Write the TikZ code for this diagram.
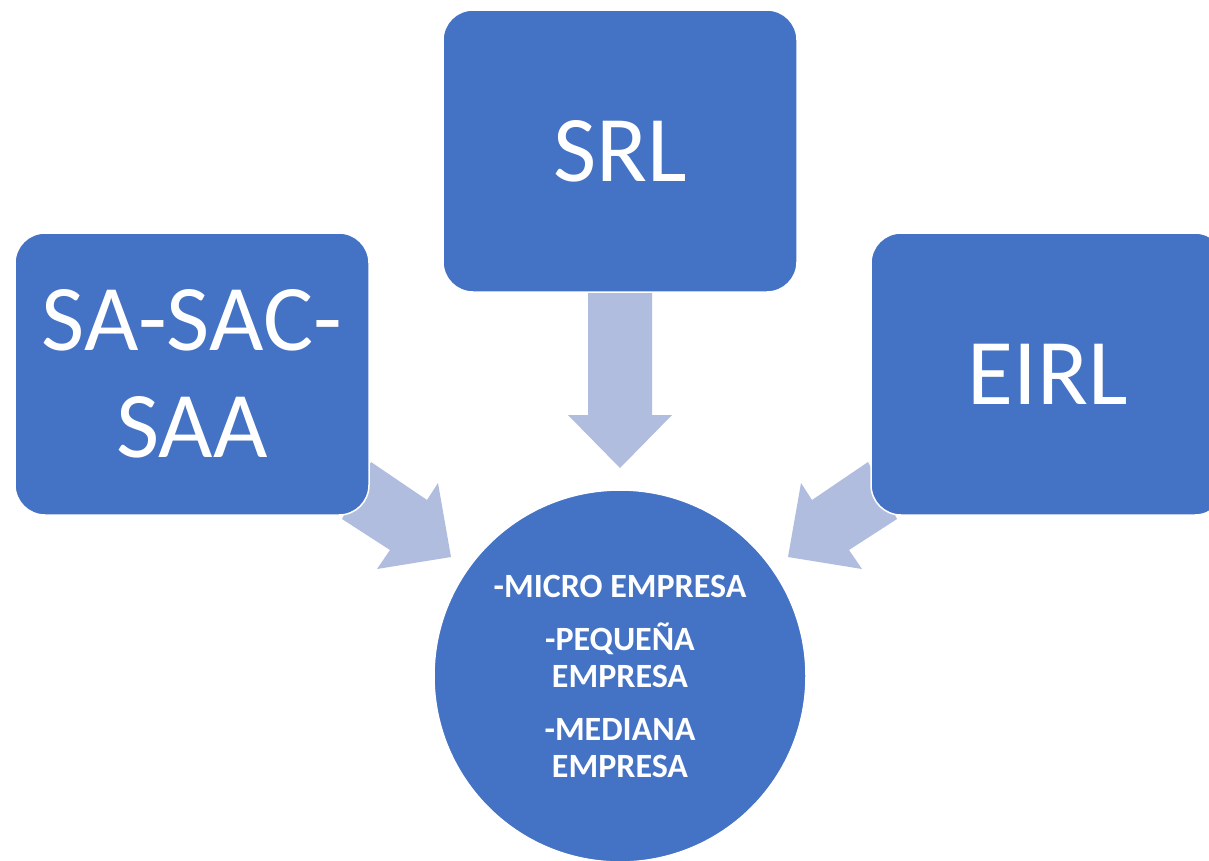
\documentclass[tikz,border=0pt]{standalone}
\usepackage{fontspec}
\setmainfont{Carlito}
\definecolor{boxblue}{HTML}{4472C4}
\definecolor{arrowblue}{HTML}{B0BDDF}
\begin{document}
\begin{tikzpicture}[x=1pt,y=-1pt,
  entbox/.style={rectangle, rounded corners=30pt, fill=boxblue, draw=white, line width=1.5pt,
    minimum width=354pt, minimum height=282pt, inner sep=0pt, text=white, align=center,
    font=\fontsize{94}{107}\selectfont},
  sizecircle/.style={circle, fill=boxblue, draw=white, line width=1.5pt, minimum size=372pt,
    inner sep=0pt, text=white, align=center, font=\bfseries\fontsize{34}{37}\selectfont},
  blockarrow/.style={fill=arrowblue, draw=none}]
\clip (0,0) rectangle (1209,860);
\fill[white] (0,0) rectangle (1209,860);
% arrow outlines
\coordinate (la1) at (371,462); \coordinate (la2) at (427,500); \coordinate (la3) at (438,483);
\coordinate (la4) at (451,557); \coordinate (la5) at (377,569); \coordinate (la6) at (390,550);
\coordinate (la7) at (342,519);
\coordinate (ra1) at (868,462); \coordinate (ra2) at (812,500); \coordinate (ra3) at (801,483);
\coordinate (ra4) at (788,557); \coordinate (ra5) at (862,569); \coordinate (ra6) at (849,550);
\coordinate (ra7) at (897,519);
\coordinate (da1) at (588,280); \coordinate (da2) at (652,280); \coordinate (da3) at (652,415);
\coordinate (da4) at (672,415); \coordinate (da5) at (620,468); \coordinate (da6) at (568,415);
\coordinate (da7) at (588,415);
\fill[blockarrow] (la1) -- (la2) -- (la3) -- (la4) -- (la5) -- (la6) -- (la7) -- cycle;
\fill[blockarrow] (ra1) -- (ra2) -- (ra3) -- (ra4) -- (ra5) -- (ra6) -- (ra7) -- cycle;
\fill[blockarrow] (da1) -- (da2) -- (da3) -- (da4) -- (da5) -- (da6) -- (da7) -- cycle;
% boxes
\node[entbox] (srl) at (620,151) {SRL};
\node[entbox] (sa) at (192,374) {SA-SAC-\\SAA};
\node[entbox] (eirl) at (1048,374) {EIRL};
% circle
\node[sizecircle] (empresa) at (620,676) {-MICRO EMPRESA\\[16pt]-PEQUEÑA\\EMPRESA\\[16pt]-MEDIANA\\EMPRESA};
\end{tikzpicture}
\end{document}
